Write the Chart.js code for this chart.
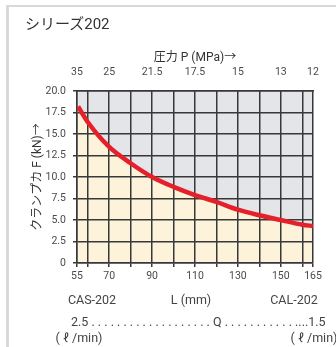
<!DOCTYPE html>
<html>
<head>
<meta charset="utf-8">
<script src="https://cdn.jsdelivr.net/npm/chart.js@4/dist/chart.umd.min.js"></script>
<style>
  body { margin: 0; background: #fff; width: 336px; height: 347px; overflow: hidden; position: relative;
         font-family: Roboto, 'Noto Sans CJK JP', sans-serif; color: #444; }
  #frame { position: absolute; left: 6px; top: 5px; right: 0; bottom: 0;
           border-left: 3px solid #d9d9d9; border-top: 2px solid #d9d9d9; }
  #wrap { position: absolute; left: 0; top: 0; width: 336px; height: 347px; }
  .t { position: absolute; white-space: nowrap; font-size: 12.5px; line-height: 1; transform: translate(-50%, -50%); }
</style>
</head>
<body>
<div id="frame"></div>
<div id="wrap"><canvas id="chart" width="336" height="347"></canvas></div>
<div class="t" style="left:25px;top:24px;transform:translate(0,-50%);font-size:15px;color:#333">シリーズ202</div>
<div class="t" style="left:92px;top:300px">CAS-202</div>
<div class="t" style="left:191px;top:300px">L (mm)</div>
<div class="t" style="left:294px;top:300px">CAL-202</div>
<div class="t" style="left:71px;top:322px;transform:translate(0,-50%)">2.5 . . . . . . . . . . . . . . . . . . . Q . . . . . . . . . . . ....1.5</div>
<div class="t" style="left:79px;top:338px">( ℓ /min)</div>
<div class="t" style="left:314px;top:338px">( ℓ /min)</div>
<script>
// stroke length L (mm) and clamp force F (kN)
const strokeL = [55.5, 60, 70, 80, 90, 100, 110, 120, 130, 140, 150, 160, 165];
const forceF  = [18.2, 16.4, 13.5, 11.6, 10.0, 8.85, 7.9, 7.1, 6.2, 5.55, 5.0, 4.45, 4.3];

// grid lines along L, labelled positions, and the pressure scale on top
const gridL     = [55, 60, 70, 80, 90, 100, 110, 120, 130, 140, 150, 160, 165];
const labelL    = [55, 70, 90, 110, 130, 150, 165];
const pressureP = ['35', '25', '21.5', '17.5', '15', '13', '12'];

const DARK = '#383838';
const TXT  = '#4a4a4a';

Chart.defaults.font.family = "Roboto, 'Noto Sans CJK JP', sans-serif";

const pts = strokeL.map((x, i) => ({ x, y: forceF[i] }));

function setGrid(scale) {
    scale.ticks = gridL.map(v => ({ value: v }));
}

new Chart(document.getElementById('chart'), {
    type: 'line',
    data: {
        datasets: [
            { data: pts, fill: 'start', backgroundColor: '#fdf2da', borderWidth: 0, pointRadius: 0,
              cubicInterpolationMode: 'monotone', xAxisID: 'x', yAxisID: 'y' },
            { data: pts, fill: 'end', backgroundColor: '#e4e5e9', borderWidth: 0, pointRadius: 0,
              cubicInterpolationMode: 'monotone', xAxisID: 'x', yAxisID: 'y' },
            { data: pts, fill: false, borderColor: '#e5202a', borderWidth: 4.5, pointRadius: 0,
              cubicInterpolationMode: 'monotone', borderCapStyle: 'butt', xAxisID: 'x', yAxisID: 'y' },
        ],
    },
    options: {
        responsive: false,
        animation: false,
        layout: { padding: { top: 45, right: 23, left: 0, bottom: 0 } },
        plugins: {
            legend:  { display: false },
            tooltip: { enabled: false },
            filler:  { drawTime: 'beforeDraw' },
        },
        scales: {
            x: {
                type: 'linear', position: 'bottom', min: 55, max: 165,
                afterBuildTicks: setGrid,
                afterFit: s => { s.height = 84; },
                grid:   { color: DARK, lineWidth: 1.5, tickLength: 4 },
                border: { color: DARK, width: 1.5 },
                ticks:  { color: TXT, font: { size: 10.5 }, padding: 3, maxRotation: 0, autoSkip: false,
                          callback: v => labelL.includes(v) ? String(v) : '' },
            },
            xTop: {
                type: 'linear', position: 'top', min: 55, max: 165,
                afterBuildTicks: setGrid,
                afterFit: s => { s.height = 46; },
                grid:   { display: false },
                border: { color: DARK, width: 1.5 },
                ticks:  { color: TXT, font: { size: 10.5 }, padding: 4, maxRotation: 0, autoSkip: false,
                          callback: v => { const i = labelL.indexOf(v); return i >= 0 ? pressureP[i] : ''; } },
                title:  { display: true, text: '圧力 P (MPa)→', color: '#333', font: { size: 12 }, padding: { top: 6 } },
            },
            y: {
                min: 0, max: 20,
                afterFit: s => { s.width = 77; },
                grid:   { color: DARK, lineWidth: 1.5, tickLength: 4 },
                border: { color: DARK, width: 1.5 },
                ticks:  { stepSize: 2.5, color: TXT, font: { size: 10.5 }, padding: 7,
                          callback: v => v === 0 ? '0' : v.toFixed(1) },
                title:  { display: true, text: 'クランプカ F (kN)→', color: '#333', font: { size: 12 }, padding: { top: 31 } },
            },
        },
    },
});
</script>
</body>
</html>
